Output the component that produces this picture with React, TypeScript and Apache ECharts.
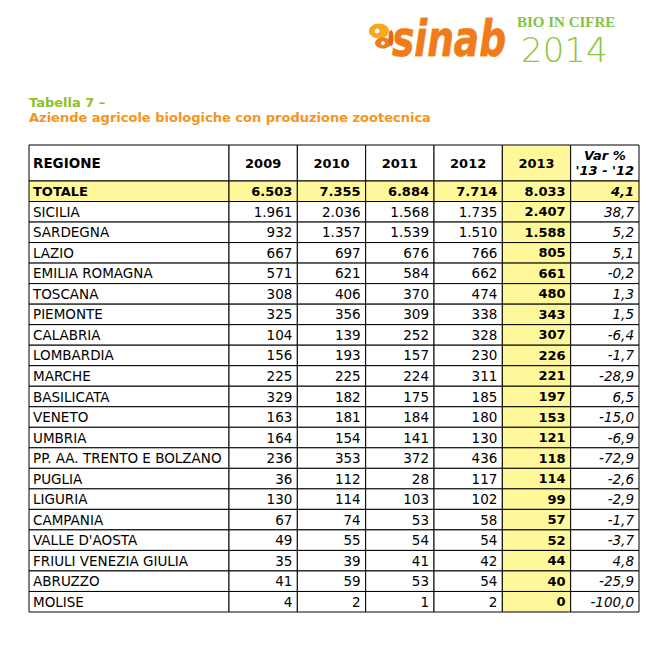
import React, { useEffect, useRef } from 'react';
import * as echarts from 'echarts';

const regions = [
  'TOTALE', 'SICILIA', 'SARDEGNA', 'LAZIO', 'EMILIA ROMAGNA', 'TOSCANA', 'PIEMONTE',
  'CALABRIA', 'LOMBARDIA', 'MARCHE', 'BASILICATA', 'VENETO', 'UMBRIA',
  'PP. AA. TRENTO E BOLZANO', 'PUGLIA', 'LIGURIA', 'CAMPANIA', "VALLE D'AOSTA",
  'FRIULI VENEZIA GIULIA', 'ABRUZZO', 'MOLISE',
];
const years = ['2009', '2010', '2011', '2012', '2013'];
const v2009 = [6503, 1961, 932, 667, 571, 308, 325, 104, 156, 225, 329, 163, 164, 236, 36, 130, 67, 49, 35, 41, 4];
const v2010 = [7355, 2036, 1357, 697, 621, 406, 356, 139, 193, 225, 182, 181, 154, 353, 112, 114, 74, 55, 39, 59, 2];
const v2011 = [6884, 1568, 1539, 676, 584, 370, 309, 252, 157, 224, 175, 184, 141, 372, 28, 103, 53, 54, 41, 53, 1];
const v2012 = [7714, 1735, 1510, 766, 662, 474, 338, 328, 230, 311, 185, 180, 130, 436, 117, 102, 58, 54, 42, 54, 2];
const v2013 = [8033, 2407, 1588, 805, 661, 480, 343, 307, 226, 221, 197, 153, 121, 118, 114, 99, 57, 52, 44, 40, 0];
const varPct = [4.1, 38.7, 5.2, 5.1, -0.2, 1.3, 1.5, -6.4, -1.7, -28.9, 6.5, -15.0, -6.9, -72.9, -2.6, -2.9, -1.7, -3.7, 4.8, -25.9, -100.0];
const regionHeader = 'REGIONE';
const varHeader = "Var %\n'13 - '12";
const titleLine1 = 'Tabella 7 \u2013';
const titleLine2 = 'Aziende agricole biologiche con produzione zootecnica';

const yearValues = [v2009, v2010, v2011, v2012, v2013];

const YELLOW = '#FEF89A';
const FONT = 'DejaVu Sans';

function fmtInt(n: number): string {
  return String(n).replace(/\B(?=(\d{3})+(?!\d))/g, '.');
}
function fmtVar(n: number): string {
  return n.toFixed(1).replace('.', ',');
}

function cellBox(api: any) {
  const c = api.value(0) as number;
  const r = api.value(1) as number;
  const p = api.coord([c, r]);
  const s = api.size([1, 1]);
  return { c, r, x0: p[0] - s[0] / 2, y0: p[1] - s[1] / 2, w: s[0], h: s[1], cy: p[1], cx: p[0] };
}

export default function App() {
  const ref = useRef<HTMLDivElement>(null);
  useEffect(() => {
    if (!ref.current) return;
    const chart = echarts.init(ref.current, undefined, { renderer: 'svg' });
    const rows = regions.map((_, i) => String(i));
    const numCols = [...years, 'var'];

    const nameBody = regions.map((_, r) => [0, r]);
    const numBody: number[][] = [];
    for (let r = 0; r < regions.length; r++) for (let c = 0; c < numCols.length; c++) numBody.push([c, r]);
    const numHead = numCols.map((_, c) => [c, 0]);

    const option: any = {
      animation: false,
      backgroundColor: '#ffffff',
      grid: [
        { left: 29, top: 145, width: 200, height: 36 },
        { left: 229, top: 145, width: 410, height: 36 },
        { left: 29, top: 181, width: 200, height: 431 },
        { left: 229, top: 181, width: 410, height: 431 },
      ],
      xAxis: [
        { type: 'category', gridIndex: 0, data: ['name'], show: false },
        { type: 'category', gridIndex: 1, data: numCols, show: false },
        { type: 'category', gridIndex: 2, data: ['name'], show: false },
        { type: 'category', gridIndex: 3, data: numCols, show: false },
      ],
      yAxis: [
        { type: 'category', gridIndex: 0, data: ['h'], show: false, inverse: true },
        { type: 'category', gridIndex: 1, data: ['h'], show: false, inverse: true },
        { type: 'category', gridIndex: 2, data: rows, show: false, inverse: true },
        { type: 'category', gridIndex: 3, data: rows, show: false, inverse: true },
      ],
      graphic: [
        // butterfly
        { type: 'ellipse', shape: { cx: 379, cy: 31, rx: 10, ry: 7.5 }, style: { fill: '#F8A81E' } },
        { type: 'ellipse', shape: { cx: 383, cy: 43, rx: 8, ry: 5.5 }, style: { fill: '#EF7D1C' } },
        { type: 'circle', shape: { cx: 377, cy: 31, r: 2.4 }, style: { fill: '#fff' } },
        { type: 'circle', shape: { cx: 383, cy: 43, r: 2 }, style: { fill: '#fff' } },
        { type: 'ellipse', shape: { cx: 391, cy: 38, rx: 2.5, ry: 8 }, style: { fill: '#E8641B' } },
        // sinab
        {
          type: 'text', x: 392, y: 38, scaleX: 0.75,
          style: {
            text: 'sinab', x: 0, y: 0, align: 'left', verticalAlign: 'middle',
            font: 'italic bold 50px "DejaVu Sans"',
            fill: '#F07A1E', stroke: '#F6A51F', lineWidth: 1,
          },
        },
        {
          type: 'text', style: {
            text: 'BIO IN CIFRE', x: 517, y: 22, align: 'left', verticalAlign: 'middle',
            font: 'bold 15px "Liberation Serif"', fill: '#82C341', lineHeight: 12,
          },
        },
        {
          type: 'text', style: {
            text: '2014', x: 521, y: 50, align: 'left', verticalAlign: 'middle',
            font: '200 34px "DejaVu Sans"', fill: '#8DC63F', lineHeight: 24,
          },
        },
        {
          type: 'text', style: {
            text: titleLine1, x: 29, y: 102, align: 'left', verticalAlign: 'middle',
            font: `bold 13px "${FONT}"`, fill: '#8DC21F',
          },
        },
        {
          type: 'text', style: {
            text: titleLine2, x: 29, y: 117, align: 'left', verticalAlign: 'middle',
            font: `bold 13px "${FONT}"`, fill: '#F7941D',
          },
        },
      ],
      series: [
        {
          type: 'custom', xAxisIndex: 0, yAxisIndex: 0, data: [[0, 0]],
          renderItem: (_p: any, api: any) => {
            const b = cellBox(api);
            return {
              type: 'group', children: [
                { type: 'rect', shape: { x: b.x0, y: b.y0, width: b.w, height: b.h }, style: { fill: '#fff', stroke: '#000', lineWidth: 1 } },
                { type: 'text', style: { text: regionHeader, x: b.x0 + 4, y: b.cy, align: 'left', verticalAlign: 'middle', font: `bold 13.5px "${FONT}"`, fill: '#000' } },
              ],
            };
          },
        },
        {
          type: 'custom', xAxisIndex: 1, yAxisIndex: 1, data: numHead,
          renderItem: (_p: any, api: any) => {
            const b = cellBox(api);
            const isVar = b.c === 5;
            return {
              type: 'group', children: [
                { type: 'rect', shape: { x: b.x0, y: b.y0, width: b.w, height: b.h }, style: { fill: b.c === 4 ? YELLOW : '#fff', stroke: '#000', lineWidth: 1 } },
                {
                  type: 'text', style: {
                    text: isVar ? varHeader : years[b.c], x: b.cx, y: b.cy, align: 'center', verticalAlign: 'middle',
                    font: `${isVar ? 'italic ' : ''}bold 13px "${FONT}"`, lineHeight: 15, fill: '#000',
                  },
                },
              ],
            };
          },
        },
        {
          type: 'custom', xAxisIndex: 2, yAxisIndex: 2, data: nameBody,
          renderItem: (_p: any, api: any) => {
            const b = cellBox(api);
            const tot = b.r === 0;
            return {
              type: 'group', children: [
                { type: 'rect', shape: { x: b.x0, y: b.y0, width: b.w, height: b.h }, style: { fill: tot ? YELLOW : '#fff', stroke: '#000', lineWidth: 1 } },
                { type: 'text', style: { text: regions[b.r], x: b.x0 + 4, y: b.cy, align: 'left', verticalAlign: 'middle', font: `${tot ? 'bold 13px' : '13.5px'} "${FONT}"`, fill: '#000' } },
              ],
            };
          },
        },
        {
          type: 'custom', xAxisIndex: 3, yAxisIndex: 3, data: numBody,
          renderItem: (_p: any, api: any) => {
            const b = cellBox(api);
            const tot = b.r === 0;
            const isVar = b.c === 5;
            const bold = tot || b.c === 4;
            const txt = isVar ? fmtVar(varPct[b.r]) : fmtInt(yearValues[b.c][b.r]);
            return {
              type: 'group', children: [
                { type: 'rect', shape: { x: b.x0, y: b.y0, width: b.w, height: b.h }, style: { fill: (tot || b.c === 4) ? YELLOW : '#fff', stroke: '#000', lineWidth: 1 } },
                {
                  type: 'text', style: {
                    text: txt, x: b.x0 + b.w - 5, y: b.cy, align: 'right', verticalAlign: 'middle',
                    font: `${isVar ? 'italic ' : ''}${bold ? 'bold 13px' : '13.5px'} "${FONT}"`, fill: '#000',
                  },
                },
              ],
            };
          },
        },
      ],
    };
    chart.setOption(option);
    return () => chart.dispose();
  }, []);
  return <div ref={ref} style={{ position: 'fixed', left: 0, top: 0, width: 664, height: 652, background: '#fff' }} />;
}
